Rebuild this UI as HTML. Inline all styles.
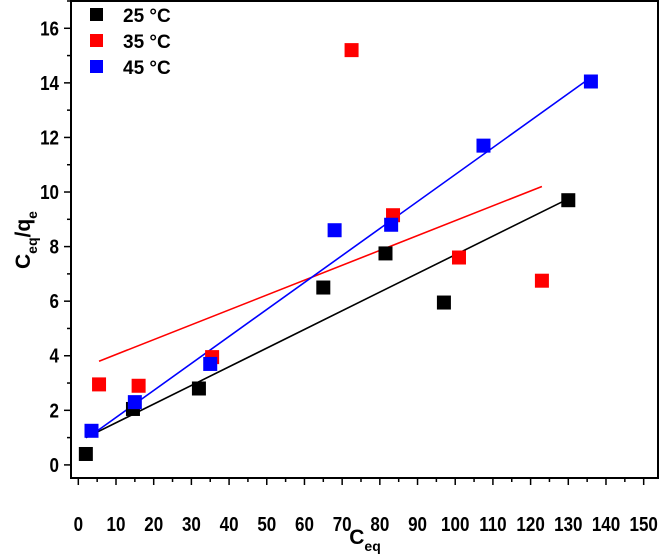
<!DOCTYPE html>
<html><head><meta charset="utf-8"><style>
body{margin:0;background:#fff;}
svg{display:block;font-family:"Liberation Sans",Arial,sans-serif;font-weight:bold;}
</style></head><body>
<svg id="chart" width="661" height="557" viewBox="0 0 661 557"></svg>
<script>
const seriesNames=["25 °C","35 °C","45 °C"];
const seriesColors=["#000000","#ff0000","#0000ff"];
const x25=[2,14.5,32,65,81.5,97,130];
const y25=[0.4,2.05,2.8,6.5,7.75,5.95,9.7];
const x35=[5.5,16,35.5,72.5,83.5,101,123];
const y35=[2.95,2.9,3.95,15.2,9.15,7.6,6.75];
const x45=[3.5,15,35,68,83,107.5,136];
const y45=[1.25,2.3,3.7,8.6,8.8,11.7,14.05];
const fitSlope=[0.0684,0.0545,0.0989];
const fitIntercept=[0.86,3.5,0.75];
const xTicks=[0,10,20,30,40,50,60,70,80,90,100,110,120,130,140,150];
const yTicks=[0,2,4,6,8,10,12,14,16];

const NS="http://www.w3.org/2000/svg";
const svg=document.getElementById('chart');
const L=71,R=658,T=1,B=478;
const xMin=-1.94,xMax=153.8,yMin=-0.48,yMax=17.0;
const sx=v=>L+(v-xMin)/(xMax-xMin)*(R-L);
const sy=v=>B-(v-yMin)/(yMax-yMin)*(B-T);
function mk(tag,attrs,parent){const e=document.createElementNS(NS,tag);for(const k in attrs)e.setAttribute(k,attrs[k]);(parent||svg).appendChild(e);return e;}

const frame=mk('rect',{x:L,y:T,width:R-L,height:B-T,fill:'none',stroke:'#000','stroke-width':2});



const xg=mk('g',{});


xTicks.forEach(t=>{
  mk('line',{x1:sx(t),x2:sx(t),y1:B,y2:B+7,stroke:'#000','stroke-width':1.5},xg);
  mk('line',{x1:sx(t+5),x2:sx(t+5),y1:B,y2:B+4,stroke:'#000','stroke-width':1.5},xg);
  const tx=mk('text',{x:0,y:0,'text-anchor':'middle','font-size':20,transform:'translate('+sx(t)+',531) scale(0.85,1)'},xg);
  tx.textContent=t;
  
  
});
const yg=mk('g',{});


yTicks.forEach(t=>{
  mk('line',{x1:L-7,x2:L,y1:sy(t),y2:sy(t),stroke:'#000','stroke-width':1.5},yg);
  mk('line',{x1:L-4,x2:L,y1:sy(t+1),y2:sy(t+1),stroke:'#000','stroke-width':1.5},yg);
  const tx=mk('text',{x:0,y:0,'text-anchor':'end','font-size':20,transform:'translate('+(L-12)+','+(sy(t)+7)+') scale(0.85,1)'},yg);
  tx.textContent=t;
  
  
});

const xt=mk('text',{x:365,y:544,'text-anchor':'middle','font-size':21});
xt.innerHTML='C<tspan font-size="14" dy="7">eq</tspan>';


const yt=mk('text',{x:0,y:0,'text-anchor':'middle','font-size':21,transform:'translate(30,240) rotate(-90)'});
yt.innerHTML='C<tspan font-size="14" dy="7">eq</tspan><tspan dy="-7">/q</tspan><tspan font-size="14" dy="7">e</tspan>';



const xs=[x25,x35,x45],ys=[y25,y35,y45];
for(let s=0;s<3;s++){
  const xa=xs[s];
  const x0=Math.min(...xa),x1=Math.max(...xa);
  const ln=mk('line',{x1:sx(x0),y1:sy(fitSlope[s]*x0+fitIntercept[s]),x2:sx(x1),y2:sy(fitSlope[s]*x1+fitIntercept[s]),stroke:seriesColors[s],'stroke-width':1.6});
  
  
}
for(let s=0;s<3;s++){
  const g=mk('g',{});
  
  
  xs[s].forEach((x,i)=>{
    const r=mk('rect',{x:sx(x)-7,y:sy(ys[s][i])-7,width:14,height:14,fill:seriesColors[s]},g);
    
    
  });
}
const lg=mk('g',{});


seriesNames.forEach((n,i)=>{
  const y=15+i*26;
  const r=mk('rect',{x:90,y:y-7,width:13,height:13,fill:seriesColors[i]},lg);
  
  
  const t=mk('text',{x:123,y:y+7,'font-size':19},lg);
  t.textContent=n;
  
  
});
</script>
</body></html>
